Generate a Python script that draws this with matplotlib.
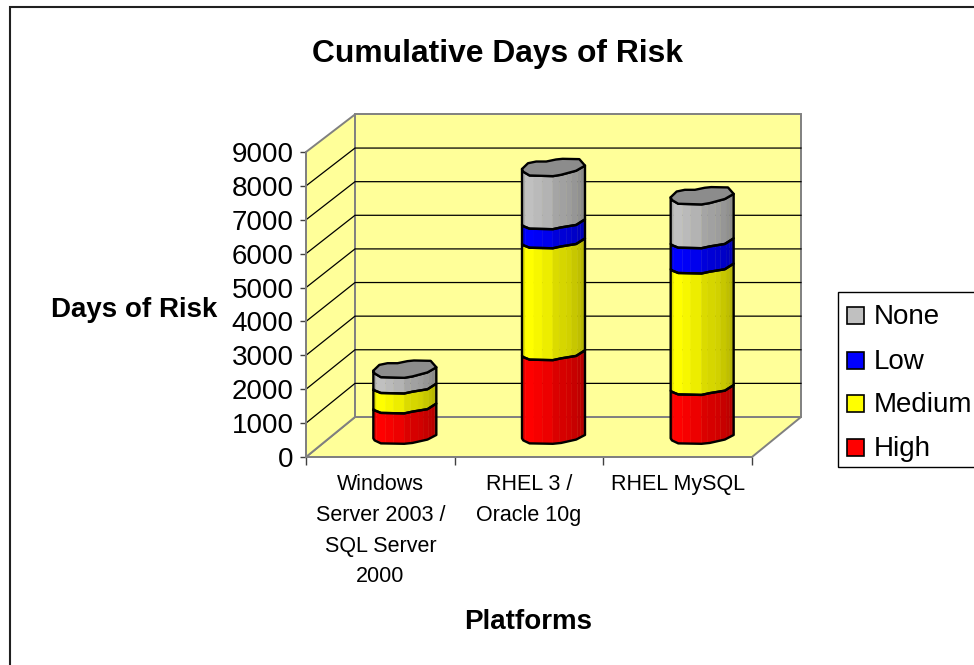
import numpy as np
import matplotlib
matplotlib.use("Agg")
import matplotlib.pyplot as plt
from matplotlib.patches import Polygon, Rectangle

W, H = 974, 665
plt.rcParams['font.family'] = ['Liberation Sans', 'DejaVu Sans']

categories = ["Windows\nServer 2003 /\nSQL Server\n2000", "RHEL 3 /\nOracle 10g", "RHEL MySQL"]
series_names = ["High", "Medium", "Low", "None"]
high = [865, 2443, 1413]
medium = [590, 3315, 3597]
low = [0, 565, 750]
none = [550, 1657, 1382]
series_values = [high, medium, low, none]
series_colors = ["#ff0000", "#ffff00", "#0000ff", "#c0c0c0"]
y_ticks = list(range(0, 10000, 1000))

# Cross-section outline of a column, as fractions of its half width and half depth.
section_u = [-1, -.81, -.55, -.23, .08, .29, .82, 1, .72, .24, -.02, -.76, -.96]
section_v = [-.16, .52, .72, .72, .96, 1.04, 1, .24, -.36, -.84, -1, -.92, -.48]
# Brightness of the vertical facets across the column front.
facet_edges = [-1, -.9, -.62, -.36, -.02, .18, .42, .58, .76, .86, .94, 1]
facet_shade = [.88, 1, .97, .93, .86, .84, .82, .78, .75, .72, .68]

fig = plt.figure(figsize=(W / 100, H / 100), dpi=100)
ax = fig.add_axes([306 / W, (H - 457) / H, 446 / W, 305 / H])
ax.set_xlim(0, 3)
ax.set_ylim(0, 9000)
ax.patch.set_visible(False)

PX_X = 446 / 3
PX_Y = 305 / 9000
DEPTH_X = 49 / PX_X
DEPTH_Y = 40 / PX_Y
DEPTH_K = 0.992
HALF_W = 31.5 / PX_X
HALF_D = 8.5 / PX_Y


def project(x, v, d):
    """Map a category position, value and depth (0 front, 1 back) to axes data."""
    return x + d * DEPTH_X, v * (1 - d * (1 - DEPTH_K)) + d * DEPTH_Y


def poly(points, **kw):
    kw.setdefault("clip_on", False)
    p = Polygon(points, closed=True, **kw)
    ax.add_patch(p)
    return p


wall = "#ffff99"
edge = "#808080"
poly([project(0, 0, 0), project(3, 0, 0), project(3, 0, 1), project(0, 0, 1)],
     fc=wall, ec=edge, lw=1.4, zorder=1)
poly([project(0, 0, 0), project(0, 0, 1), project(0, 9000, 1), project(0, 9000, 0)],
     fc=wall, ec=edge, lw=1.4, zorder=1)
poly([project(0, 0, 1), project(3, 0, 1), project(3, 9000, 1), project(0, 9000, 1)],
     fc=wall, ec=edge, lw=1.4, zorder=1)

# Gridlines run along the side wall and across the back wall.
for t in y_ticks[1:-1]:
    xs, ys = zip(project(0, t, 0), project(0, t, 1), project(3, t, 1))
    ax.plot(xs, ys, color="black", lw=0.9, clip_on=False, zorder=2)

closed_u = np.array(section_u + section_u[:1], float)
closed_v = np.array(section_v + section_v[:1], float)
# Front edge of a column ring, left to right: at the cap, between segments, at the floor.
front_u = np.array([-1, -.96, -.76, -.02, .24, .72, 1])
cap_front = np.array([-.16, -.48, -.92, -1, -.84, -.36, .24])
ring_front = np.array([-.16, -.3, -.6, -.66, -.45, -.16, .5])
floor_front = np.array([-.16, -.4, -.75, -.8, -.7, -.3, .24])


def level_xy(cx, v, u, w):
    x, y = project(cx, v, 0.5)
    return x + u * HALF_W, y + w * HALF_D


for i in range(len(categories)):
    cx = i + 0.5
    base = 0.0
    last = max(j for j, vals in enumerate(series_values) if vals[i] > 0)
    for j, vals in enumerate(series_values):
        val = vals[i]
        if val <= 0:
            continue
        top = base + val
        top_prof = cap_front if j == last else ring_front
        low_prof = floor_front if base == 0 else ring_front
        rgb = np.array(matplotlib.colors.to_rgb(series_colors[j]))
        for k, s in enumerate(facet_shade):
            us = np.linspace(facet_edges[k], facet_edges[k + 1], 5)
            upper = [level_xy(cx, top, u, np.interp(u, front_u, top_prof)) for u in us]
            lower = [level_xy(cx, base, u, np.interp(u, front_u, low_prof)) for u in us[::-1]]
            poly(upper + lower, fc=rgb * s, ec=rgb * s, lw=0.3, zorder=3 + i)
        outline = [level_xy(cx, top, u, w) for u, w in zip(front_u, top_prof)]
        outline += [level_xy(cx, base, u, w) for u, w in zip(front_u[::-1], low_prof[::-1])]
        poly(outline, fc="none", ec="black", lw=1.7, joinstyle="round", zorder=4 + i)
        base = top
    cap = [level_xy(cx, base, u, w) for u, w in zip(closed_u, closed_v)]
    poly(cap, fc="#8c8c8c", ec="black", lw=1.7, joinstyle="round", zorder=4 + i)

# Axis furniture: front edges carry the ticks and labels.
for side in ("top", "right"):
    ax.spines[side].set_visible(False)
for side in ("left", "bottom"):
    ax.spines[side].set_color(edge)
    ax.spines[side].set_linewidth(1.4)
    ax.spines[side].set_zorder(2)
ax.set_yticks(y_ticks)
ax.set_yticklabels([str(t) for t in y_ticks], fontsize=20)
ax.tick_params(axis="y", length=4.5, width=1, color="#404040", pad=4.5)
ax.set_xticks([0, 1, 2, 3])
ax.set_xticklabels([])
ax.tick_params(axis="x", which="major", length=6, width=1, color="#404040")
ax.set_xticks([0.5, 1.5, 2.5], minor=True)
ax.set_xticklabels(categories, minor=True, fontsize=15.5, linespacing=1.62, va="top")
ax.tick_params(axis="x", which="minor", length=0, pad=12)

fig.text(498 / W, 1 - 54 / H, "Cumulative Days of Risk", fontsize=22.9, fontweight="bold",
         ha="center", va="center")
fig.text(134 / W, 1 - 310 / H, "Days of Risk", fontsize=20, fontweight="bold",
         ha="center", va="center")
fig.text(528 / W, 1 - 622 / H, "Platforms", fontsize=20, fontweight="bold",
         ha="center", va="center")

# Chart frame, cut off by the right-hand and bottom edges of the figure.
fig.add_artist(Rectangle((10 / W, 1 - 680 / H), 1.0, 673 / H, transform=fig.transFigure,
                         fc="none", ec="#202020", lw=1.5, zorder=-1))

# Legend, listed from the top of the stack downward.
fig.add_artist(Rectangle((838 / W, 1 - 467 / H), 1.0, 175 / H, transform=fig.transFigure,
                         fc="white", ec="black", lw=1.0))
for name, color, row in zip(series_names[::-1], series_colors[::-1], (315, 360, 403, 447)):
    fig.add_artist(Rectangle((847 / W, 1 - (row + 8.5) / H), 17 / W, 17 / H,
                             transform=fig.transFigure, fc=color, ec="black", lw=1.2))
    fig.text(874 / W, 1 - (row + 2) / H, name, fontsize=20, ha="left", va="center")

fig.savefig("out.png", dpi=100)
